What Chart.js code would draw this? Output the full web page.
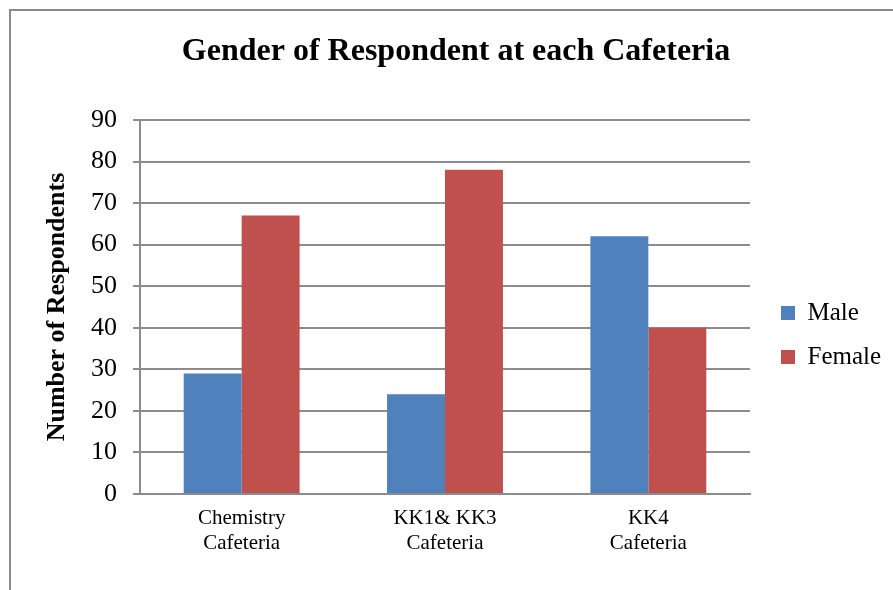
<!DOCTYPE html>
<html>
<head>
<meta charset="utf-8">
<script src="https://cdn.jsdelivr.net/npm/chart.js@4"></script>
<style>
  html, body { margin: 0; padding: 0; background: #ffffff; }
  #wrap { width: 893px; height: 590px; }
</style>
</head>
<body>
<div id="wrap"><canvas id="chart" width="893" height="590"></canvas></div>
<script>
// Respondents by gender at each cafeteria
const categories = [['Chemistry', 'Cafeteria'], ['KK1& KK3', 'Cafeteria'], ['KK4', 'Cafeteria']];
const maleCounts = [29, 24, 62];
const femaleCounts = [67, 78, 40];
const yTicks = [0, 10, 20, 30, 40, 50, 60, 70, 80, 90];

const SERIF = "'Liberation Serif', 'Times New Roman', Times, serif";
const GRID = '#8c8c8c';

// Thin grey frame around the whole chart
const framePlugin = {
  id: 'frame',
  beforeDraw(chart) {
    const ctx = chart.ctx;
    ctx.save();
    ctx.fillStyle = '#ffffff';
    ctx.fillRect(0, 0, chart.width, chart.height);
    ctx.strokeStyle = '#8a8a8a';
    ctx.lineWidth = 2;
    ctx.strokeRect(10, 10, chart.width + 20, chart.height + 20);
    ctx.restore();
  }
};

new Chart(document.getElementById('chart'), {
  type: 'bar',
  data: {
    labels: categories,
    datasets: [
      { label: 'Male', data: maleCounts, backgroundColor: '#4F81BD', borderWidth: 0 },
      { label: 'Female', data: femaleCounts, backgroundColor: '#C0504D', borderWidth: 0 }
    ]
  },
  options: {
    responsive: false,
    animation: false,
    events: [],
    categoryPercentage: 0.57,
    barPercentage: 1.0,
    layout: { padding: { left: 22, right: 3, top: 0, bottom: 0 } },
    scales: {
      y: {
        axis: 'y',
        position: 'left',
        min: 0,
        max: 90,
        afterFit(scale) { scale.width = 118; },
        afterBuildTicks(scale) { scale.ticks = yTicks.map(v => ({ value: v })); },
        ticks: {
          stepSize: 10,
          padding: 16,
          color: '#000000',
          font: { family: SERIF, size: 26 }
        },
        grid: { color: GRID, lineWidth: 2, drawTicks: true, tickLength: 7, tickColor: GRID },
        border: { display: true, color: GRID, width: 2 },
        title: {
          display: true,
          text: 'Number of Respondents',
          color: '#000000',
          font: { family: SERIF, size: 26, weight: 'bold', lineHeight: 1.2 },
          padding: { top: 20, bottom: 0 }
        }
      },
      ySpacer: {
        axis: 'y',
        position: 'right',
        display: true,
        afterFit(scale) { scale.width = 12; },
        ticks: { display: false },
        grid: { display: false, drawTicks: false },
        border: { display: false }
      },
      x: {
        afterFit(scale) { scale.height = 96; },
        ticks: {
          padding: 12,
          color: '#000000',
          maxRotation: 0,
          font: { family: SERIF, size: 21, lineHeight: 1.2 }
        },
        grid: { display: false, drawTicks: false },
        border: { display: true, color: GRID, width: 2 }
      }
    },
    plugins: {
      title: {
        display: true,
        text: 'Gender of Respondent at each Cafeteria',
        color: '#000000',
        font: { family: SERIF, size: 32, weight: 'bold', lineHeight: 1.2 },
        padding: { top: 33, bottom: 48.6 }
      },
      legend: {
        display: true,
        position: 'right',
        align: 'center',
        fullSize: false,
        maxWidth: 128,
        title: { display: true, text: '', font: { size: 12, lineHeight: 1.2 }, padding: { top: 41.6, bottom: 0 } },
        labels: {
          boxWidth: 14,
          boxHeight: 14,
          padding: 19,
          color: '#000000',
          font: { family: SERIF, size: 25 }
        }
      },
      tooltip: { enabled: false }
    }
  },
  plugins: [framePlugin]
});
</script>
</body>
</html>
